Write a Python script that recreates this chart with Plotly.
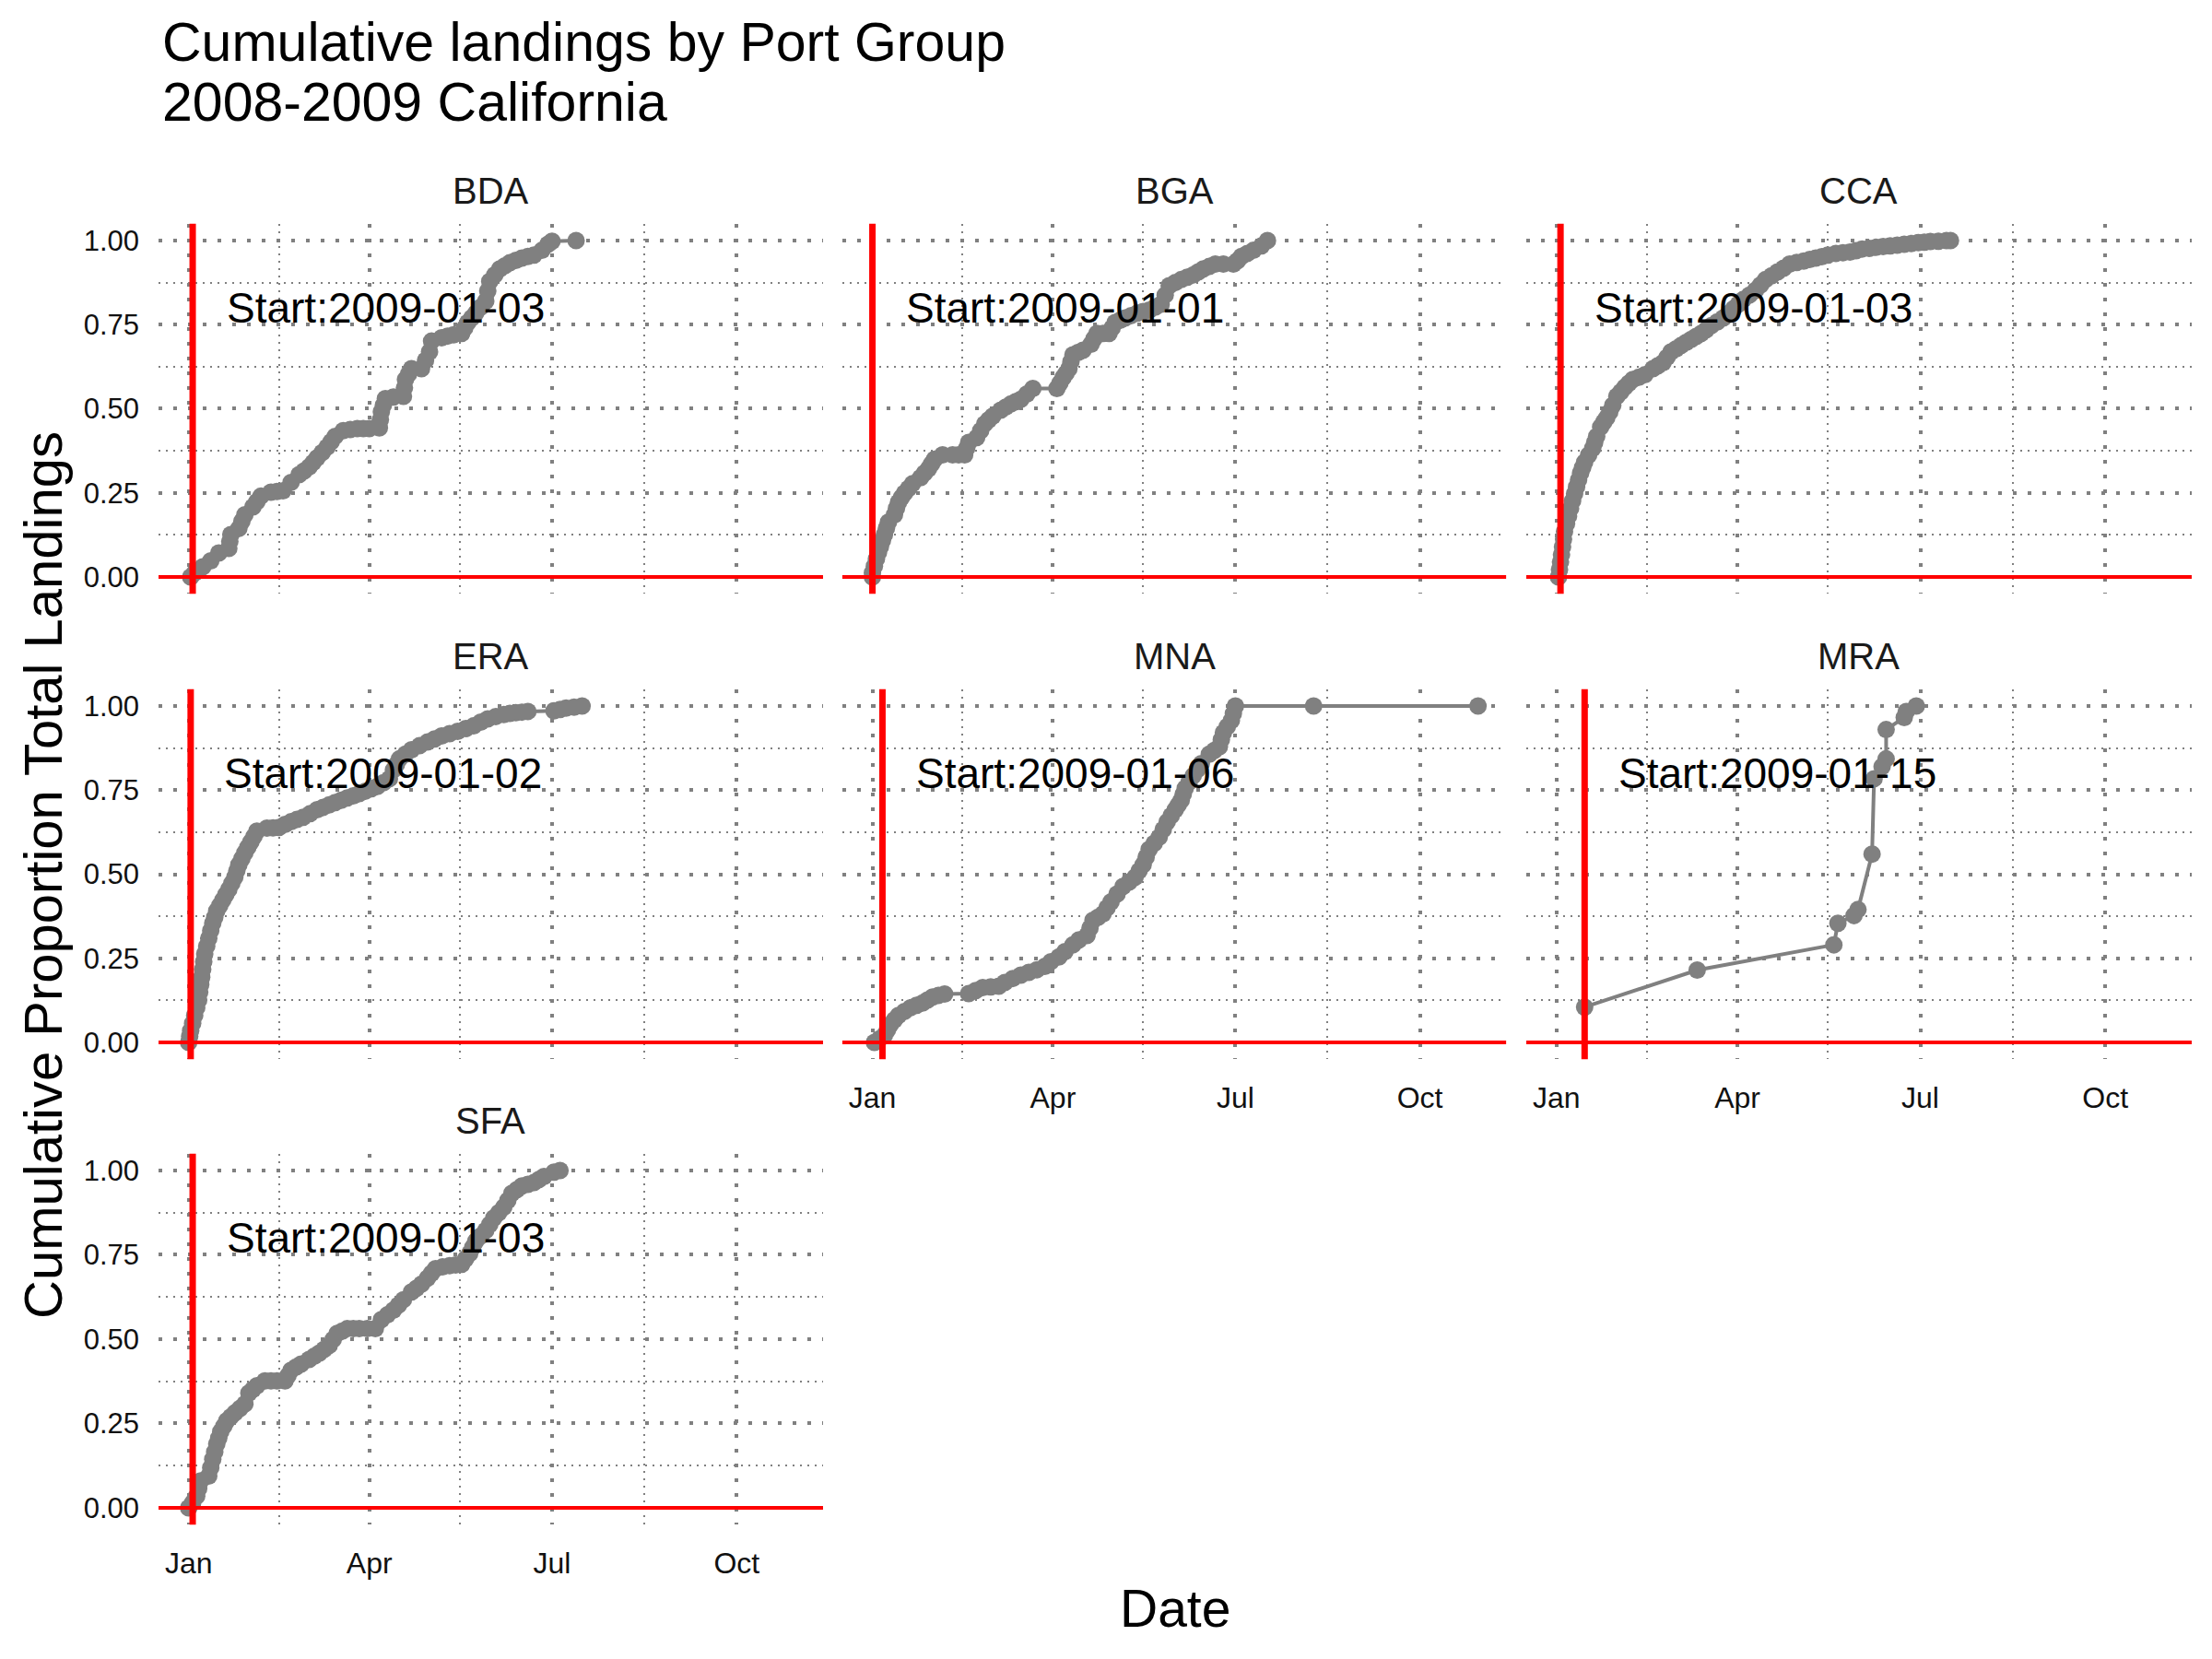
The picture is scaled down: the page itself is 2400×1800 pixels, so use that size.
import pandas as pd
import plotly.graph_objects as go

# port groups in facet order, and the start date drawn as the red line
groups = ["BDA", "BGA", "CCA", "ERA", "MNA", "MRA", "SFA"]
start_dates = ["2009-01-03", "2009-01-01", "2009-01-03", "2009-01-02",
               "2009-01-06", "2009-01-15", "2009-01-03"]

# days after 2009-01-01 and cumulative proportion of landings
bda_day = [1, 3, 7, 11, 15, 20, 20.5, 21, 25, 26.5, 28, 32, 34, 36, 41, 44, 47, 51, 55, 57.5,
           60, 62, 64, 66.5, 69, 71, 73, 77, 80.5, 84, 87, 90, 95, 95.5, 96, 97, 98, 102, 107,
           107.5, 108, 109.5, 111, 116, 118, 120, 121, 126, 129, 132, 136, 137.5, 139, 141,
           143, 145.5, 148, 149, 150, 152.5, 155, 157.5, 160, 163, 166, 169, 172, 176, 179,
           181, 193]
bda_prop = [0.0, 0.012, 0.03, 0.048, 0.071, 0.085, 0.105, 0.126, 0.144, 0.165, 0.185, 0.208,
            0.224, 0.24, 0.252, 0.254, 0.256, 0.281, 0.304, 0.315, 0.327, 0.34, 0.354, 0.37,
            0.386, 0.402, 0.418, 0.435, 0.438, 0.441, 0.441, 0.441, 0.443, 0.467, 0.491, 0.51,
            0.53, 0.535, 0.537, 0.562, 0.587, 0.603, 0.619, 0.619, 0.644, 0.669, 0.701, 0.711,
            0.716, 0.72, 0.724, 0.74, 0.756, 0.77, 0.784, 0.802, 0.82, 0.85, 0.879, 0.898,
            0.916, 0.925, 0.934, 0.941, 0.948, 0.953, 0.957, 0.971, 0.989, 0.998, 1.0]

bga_day = [0, 0, 1, 2, 3, 4, 5, 6, 7, 8, 11, 12, 13, 14.5, 16, 18, 20, 24, 26, 28, 29.5, 31,
           35, 40, 43, 46, 47, 48, 52, 54, 56, 58, 60, 64, 66.5, 69, 71.5, 74, 77, 80, 92,
           93.5, 95, 96.5, 98, 99, 100, 102.5, 105, 109, 110.5, 112, 115, 118, 119.5, 121,
           123.5, 126, 129, 132, 135, 138, 141, 144, 146, 148, 151, 154, 157, 160, 162.5,
           165, 168, 171, 175, 180, 182, 184, 187, 190, 194, 197]
bga_prop = [0.0, 0.012, 0.032, 0.053, 0.072, 0.09, 0.108, 0.126, 0.145, 0.163, 0.185, 0.204,
            0.222, 0.236, 0.249, 0.263, 0.277, 0.295, 0.309, 0.322, 0.336, 0.35, 0.363, 0.363,
            0.363, 0.363, 0.382, 0.4, 0.414, 0.435, 0.455, 0.467, 0.478, 0.496, 0.505, 0.514,
            0.521, 0.528, 0.544, 0.56, 0.56, 0.576, 0.592, 0.605, 0.619, 0.64, 0.66, 0.667,
            0.674, 0.692, 0.708, 0.724, 0.724, 0.724, 0.74, 0.756, 0.763, 0.77, 0.777, 0.784,
            0.789, 0.793, 0.802, 0.811, 0.838, 0.866, 0.875, 0.884, 0.891, 0.898, 0.907,
            0.916, 0.923, 0.93, 0.93, 0.93, 0.94, 0.953, 0.962, 0.971, 0.984, 1.0]

cca_day = [1, 1.5, 2, 2.5, 3, 3.5, 4, 5, 6, 7, 8, 9, 10, 11, 12, 13, 14, 16, 18, 19, 20, 22,
           23.5, 25, 26.5, 28, 30, 32, 34, 36, 38, 41, 44, 48, 50.5, 53, 55, 57, 59.5, 62,
           64.5, 67, 69.5, 72, 74.5, 77, 80, 83, 85.5, 88, 90.5, 93, 96, 99, 101.5, 104, 107,
           110, 113, 116, 119.5, 123, 126, 129, 132, 135, 139, 142.5, 146, 149, 152, 155.5,
           159, 162.5, 166, 169.5, 173, 176.5, 180, 183, 186, 190, 194, 196]
cca_prop = [0.0, 0.022, 0.044, 0.066, 0.089, 0.112, 0.135, 0.158, 0.181, 0.203, 0.226, 0.247,
            0.268, 0.288, 0.309, 0.325, 0.341, 0.362, 0.382, 0.4, 0.418, 0.446, 0.46, 0.473,
            0.49, 0.51, 0.537, 0.55, 0.564, 0.576, 0.587, 0.594, 0.601, 0.619, 0.628, 0.637,
            0.653, 0.669, 0.678, 0.688, 0.697, 0.706, 0.715, 0.724, 0.735, 0.747, 0.758, 0.77,
            0.783, 0.797, 0.811, 0.825, 0.838, 0.852, 0.868, 0.884, 0.895, 0.907, 0.918, 0.93,
            0.935, 0.939, 0.944, 0.948, 0.952, 0.957, 0.962, 0.964, 0.966, 0.97, 0.975, 0.977,
            0.98, 0.982, 0.984, 0.986, 0.989, 0.991, 0.994, 0.995, 0.997, 0.998, 1.0, 1.0]

era_day = [0, 0.5, 1, 2, 3, 4, 5, 5.5, 6, 6.5, 7, 7.5, 8, 9, 10, 11, 12, 13, 14, 15.5, 17,
           18.5, 20, 21.5, 23, 24, 25, 26.5, 28, 29.5, 31, 32.5, 34, 39, 42, 45, 48, 51, 54,
           57, 60.5, 64, 67, 70, 73, 76, 79, 82, 85, 88, 91, 94, 97, 100, 102, 103.5, 105,
           108, 111, 115, 119, 122.5, 126, 130, 134, 138, 142, 145.5, 149, 153, 157, 160,
           163, 166, 169, 182, 185, 188, 192, 196]
era_prop = [0.0, 0.018, 0.035, 0.057, 0.08, 0.103, 0.126, 0.149, 0.172, 0.194, 0.217, 0.24,
            0.263, 0.286, 0.309, 0.332, 0.354, 0.372, 0.391, 0.407, 0.423, 0.439, 0.455,
            0.473, 0.491, 0.51, 0.528, 0.546, 0.564, 0.58, 0.596, 0.612, 0.628, 0.637, 0.638,
            0.639, 0.648, 0.656, 0.663, 0.669, 0.68, 0.692, 0.699, 0.706, 0.713, 0.72, 0.727,
            0.733, 0.74, 0.747, 0.754, 0.761, 0.772, 0.784, 0.81, 0.826, 0.843, 0.857, 0.87,
            0.882, 0.893, 0.902, 0.911, 0.918, 0.925, 0.933, 0.941, 0.952, 0.962, 0.969,
            0.975, 0.978, 0.98, 0.982, 0.984, 0.986, 0.99, 0.994, 0.997, 1.0]

mna_day = [1, 3.5, 6, 7.5, 9, 11, 13, 16, 19, 22, 25, 27.5, 30, 33, 36, 48, 51.5, 55, 59, 63,
           66, 70, 74, 78, 82, 86, 89, 93, 96, 100, 103, 107, 108.5, 110, 112.5, 115, 117,
           119, 122, 125, 128, 131, 133, 135, 136.5, 138, 140.5, 143, 145, 147, 149, 151,
           152.5, 154, 155, 156, 158, 160, 162, 164, 168, 170.5, 173, 174, 175, 177, 179, 180,
           181, 220, 302]
mna_prop = [0.0, 0.01, 0.021, 0.037, 0.053, 0.067, 0.08, 0.092, 0.103, 0.11, 0.117, 0.126,
            0.135, 0.14, 0.144, 0.145, 0.154, 0.163, 0.165, 0.167, 0.178, 0.19, 0.2, 0.208,
            0.216, 0.226, 0.24, 0.254, 0.27, 0.29, 0.305, 0.318, 0.34, 0.363, 0.372, 0.382,
            0.4, 0.418, 0.441, 0.464, 0.477, 0.491, 0.51, 0.528, 0.551, 0.574, 0.592, 0.61,
            0.633, 0.656, 0.674, 0.692, 0.706, 0.72, 0.738, 0.756, 0.775, 0.793, 0.811, 0.829,
            0.857, 0.868, 0.879, 0.9, 0.921, 0.939, 0.957, 0.978, 1.0, 1.0, 1.0]

mra_day = [14, 70, 138, 140, 148, 150, 157, 158, 162, 164, 164, 173, 174, 179]
mra_prop = [0.105, 0.215, 0.29, 0.354, 0.377, 0.395, 0.56, 0.784, 0.82, 0.843, 0.93,
            0.966, 0.984, 1.0]

sfa_day = [0, 2, 4, 5, 6, 10, 11, 12, 13, 14, 15, 16, 17.5, 19, 21, 23, 25.5, 28, 30, 32, 34,
           38, 41, 44, 48, 49.5, 51, 53.5, 56, 60, 62.5, 65, 67.5, 70, 72, 74, 76.5, 79, 82,
           85, 89, 93, 96, 99, 102, 104.5, 107, 111, 113.5, 116, 119, 121, 123, 126.5, 130,
           133, 136, 138, 140, 141.5, 143, 145.5, 148, 150, 152, 154.5, 157, 159, 161, 163.5,
           166, 169, 172, 174.5, 177, 182, 185]
sfa_prop = [0.0, 0.015, 0.035, 0.057, 0.08, 0.094, 0.119, 0.144, 0.166, 0.189, 0.207, 0.226,
            0.242, 0.258, 0.27, 0.281, 0.294, 0.308, 0.34, 0.351, 0.362, 0.376, 0.376, 0.376,
            0.376, 0.392, 0.408, 0.417, 0.426, 0.44, 0.449, 0.458, 0.47, 0.481, 0.499, 0.517,
            0.524, 0.531, 0.531, 0.531, 0.531, 0.531, 0.558, 0.572, 0.586, 0.601, 0.617, 0.64,
            0.651, 0.663, 0.681, 0.695, 0.709, 0.714, 0.718, 0.72, 0.722, 0.738, 0.754, 0.772,
            0.79, 0.806, 0.822, 0.84, 0.859, 0.875, 0.891, 0.911, 0.932, 0.943, 0.954, 0.959,
            0.964, 0.973, 0.982, 0.995, 1.0]

series = {
    "BDA": (bda_day, bda_prop), "BGA": (bga_day, bga_prop), "CCA": (cca_day, cca_prop),
    "ERA": (era_day, era_prop), "MNA": (mna_day, mna_prop), "MRA": (mra_day, mra_prop),
    "SFA": (sfa_day, sfa_prop),
}

x_tick_vals = ["2009-01-01", "2009-04-01", "2009-07-01", "2009-10-01"]
x_tick_text = ["Jan", "Apr", "Jul", "Oct"]
x_minor_vals = ["2009-02-15", "2009-05-16", "2009-08-16"]
y_tick_vals = [0, 0.25, 0.5, 0.75, 1.0]
y_tick_text = ["0.00", "0.25", "0.50", "0.75", "1.00"]
y_minor_vals = [0.125, 0.375, 0.625, 0.875]

FONT = "Liberation Sans, Arial, sans-serif"
GREY = "#808080"
day0 = pd.Timestamp("2009-01-01")

# page has an 8px body margin, so the figure is a bit smaller than the window
W, H = 2384, 1784
col_x = [(0.0688, 0.3712), (0.3800, 0.6821), (0.6913, 0.9941)]
row_y = [(0.6434, 0.8684), (0.3603, 0.5853), (0.0772, 0.3029)]
cells = [(0, 0), (0, 1), (0, 2), (1, 0), (1, 1), (1, 2), (2, 0)]
x_labelled = {"MNA", "MRA", "SFA"}

fig = go.Figure()
layout = {}
shapes = []
annotations = []

for i, g in enumerate(groups):
    n = i + 1
    sfx = "" if n == 1 else str(n)
    r, c = cells[i]
    days, prop = series[g]
    dates = [day0 + pd.Timedelta(days=d) for d in days]

    fig.add_trace(go.Scatter(
        x=dates, y=prop, mode="lines+markers", xaxis="x" + sfx, yaxis="y" + sfx,
        line=dict(color=GREY, width=4), marker=dict(color=GREY, size=19),
        showlegend=False, hoverinfo="skip"))

    layout["xaxis" + sfx] = dict(
        domain=col_x[c], anchor="y" + sfx, type="date",
        range=["2008-12-17", "2009-11-13"],
        tickmode="array", tickvals=x_tick_vals, ticktext=x_tick_text,
        showticklabels=g in x_labelled, ticks="", ticklabelstandoff=20,
        tickfont=dict(family=FONT, size=32, color="#111111"),
        showgrid=True, gridcolor=GREY, gridwidth=3.5, griddash="4px,12px",
        minor=dict(tickvals=x_minor_vals, showgrid=True, gridcolor=GREY,
                   gridwidth=1.8, griddash="2px,6px"),
        zeroline=False, showline=False, fixedrange=True)
    layout["yaxis" + sfx] = dict(
        domain=row_y[r], anchor="x" + sfx, range=[-0.05, 1.05],
        tickmode="array", tickvals=y_tick_vals, ticktext=y_tick_text,
        showticklabels=(c == 0), ticks="", ticklabelstandoff=20,
        tickfont=dict(family=FONT, size=31, color="#111111"),
        showgrid=True, gridcolor=GREY, gridwidth=3.5, griddash="4px,12px",
        minor=dict(tickvals=y_minor_vals, showgrid=True, gridcolor=GREY,
                   gridwidth=1.8, griddash="2px,6px"),
        zeroline=False, showline=False, fixedrange=True)

    # red start line and red zero line
    shapes.append(dict(type="line", xref="x" + sfx, yref="y" + sfx + " domain",
                       x0=start_dates[i], x1=start_dates[i], y0=0, y1=1,
                       line=dict(color="#ff0000", width=7)))
    shapes.append(dict(type="line", xref="x" + sfx + " domain", yref="y" + sfx,
                       x0=0, x1=1, y0=0, y1=0, line=dict(color="#ff0000", width=4)))

    label_x = pd.Timestamp(start_dates[i]) + pd.Timedelta(days=96)
    annotations.append(dict(text="Start:" + start_dates[i], x=label_x, y=0.8,
                            xref="x" + sfx, yref="y" + sfx, showarrow=False,
                            xanchor="center", yanchor="middle",
                            font=dict(family=FONT, size=46, color="#000000")))
    annotations.append(dict(text=g, x=(col_x[c][0] + col_x[c][1]) / 2,
                            y=row_y[r][1] + 0.0202, xref="paper", yref="paper",
                            showarrow=False, xanchor="center", yanchor="middle",
                            font=dict(family=FONT, size=40, color="#1a1a1a")))

annotations += [
    dict(text="Cumulative landings by Port Group", x=0.0696, y=0.9787, xref="paper",
         yref="paper", showarrow=False, xanchor="left", yanchor="middle",
         font=dict(family=FONT, size=59, color="#000000")),
    dict(text="2008-2009 California", x=0.0696, y=0.9423, xref="paper",
         yref="paper", showarrow=False, xanchor="left", yanchor="middle",
         font=dict(family=FONT, size=59, color="#000000")),
    dict(text="Cumulative Proportion Total Landings", x=0.0159, y=0.4725,
         xref="paper", yref="paper", showarrow=False, textangle=-90,
         xanchor="center", yanchor="middle",
         font=dict(family=FONT, size=58, color="#000000")),
    dict(text="Date", x=0.5315, y=0.0264, xref="paper", yref="paper", showarrow=False,
         xanchor="center", yanchor="middle",
         font=dict(family=FONT, size=57, color="#000000")),
]

fig.update_layout(
    width=W, height=H, autosize=False,
    margin=dict(l=0, r=0, t=0, b=0),
    paper_bgcolor="white", plot_bgcolor="white",
    shapes=shapes, annotations=annotations, **layout)

fig.write_html("out.html")
